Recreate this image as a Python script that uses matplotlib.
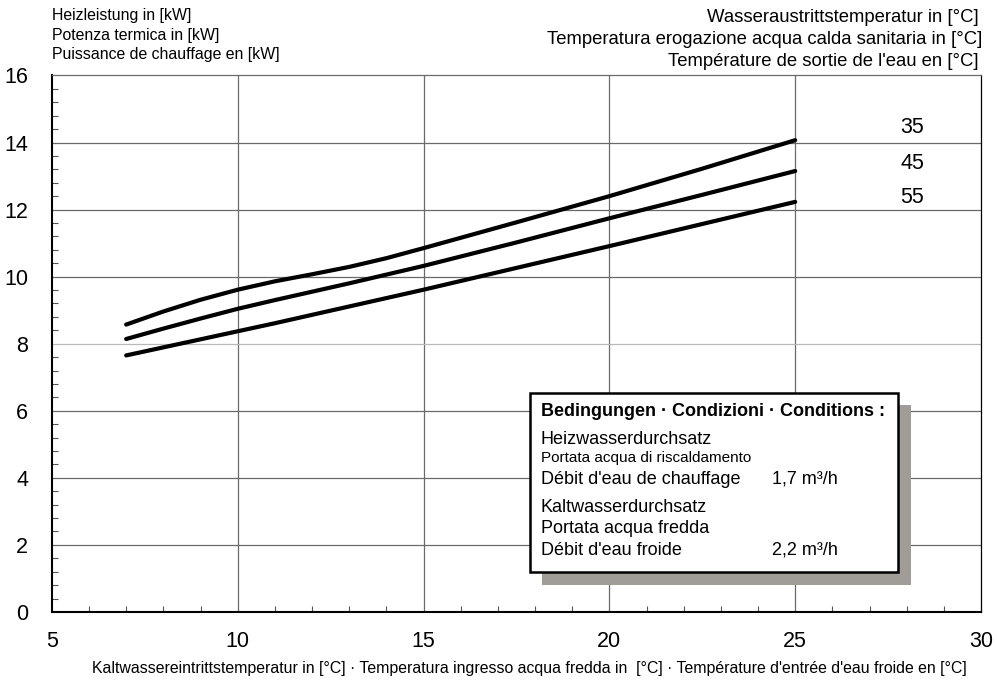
import numpy as np
import matplotlib
matplotlib.use("Agg")
import matplotlib.pyplot as plt
from matplotlib.patches import Rectangle
from matplotlib.ticker import MultipleLocator

plt.rcParams['font.family'] = ['Liberation Sans', 'DejaVu Sans']

# Kaltwassereintrittstemperatur [°C]
temp_in = [7, 8, 9, 10, 11, 12, 13, 14, 15, 17.5, 20, 22.5, 25]
# Heizleistung [kW] je Wasseraustrittstemperatur
leistung_35 = [8.57, 8.96, 9.31, 9.61, 9.86, 10.07, 10.29, 10.55, 10.85, 11.62, 12.40, 13.22, 14.07]
leistung_45 = [8.14, 8.45, 8.75, 9.04, 9.30, 9.55, 9.80, 10.06, 10.32, 11.02, 11.74, 12.44, 13.15]
leistung_55 = [7.65, 7.89, 8.13, 8.37, 8.61, 8.86, 9.11, 9.36, 9.61, 10.26, 10.91, 11.57, 12.23]
kurven_labels = ["35", "45", "55"]
label_y = [14.45, 13.38, 12.37]

x_ticks = [5, 10, 15, 20, 25, 30]
y_ticks = [0, 2, 4, 6, 8, 10, 12, 14, 16]

fig = plt.figure(figsize=(9.97, 6.86), dpi=100)
ax = fig.add_axes([0.052, 0.108, 0.932, 0.782])
ax.set_xlim(5, 30)
ax.set_ylim(0, 16)

# Gitter
for xv in x_ticks[1:-1]:
    ax.axvline(xv, color="#6a6a6a", lw=0.9, zorder=1)
for yv in y_ticks[1:-1]:
    c = "#b8b8b8" if yv == 8 else "#6a6a6a"
    ax.axhline(yv, color=c, lw=0.9, zorder=1)

for yk in [leistung_35, leistung_45, leistung_55]:
    ax.plot(temp_in, yk, color="black", lw=3.0, solid_capstyle="round",
            solid_joinstyle="round", zorder=3)

for lab, yl in zip(kurven_labels, label_y):
    ax.text(28.15, yl, lab, fontsize=15.5, ha="center", va="center")

ax.set_xticks(x_ticks)
ax.set_yticks(y_ticks)
ax.xaxis.set_minor_locator(MultipleLocator(1))
ax.yaxis.set_minor_locator(MultipleLocator(0.4))
ax.tick_params(which="major", direction="in", length=0, labelsize=15.5)
ax.tick_params(which="minor", direction="in", length=4, width=0.8, color="#555555")
ax.tick_params(axis="x", pad=14)
ax.tick_params(axis="y", pad=17)

ax.spines["left"].set_linewidth(1.5)
ax.spines["bottom"].set_linewidth(1.5)
ax.spines["top"].set_color("#6a6a6a")
ax.spines["top"].set_linewidth(0.9)
ax.spines["right"].set_linewidth(0.9)

# Achsentitel
fig.text(0.0522, 0.977, "Heizleistung in [kW]", fontsize=11.4, va="center")
fig.text(0.0522, 0.948, "Potenza termica in [kW]", fontsize=11.4, va="center")
fig.text(0.0522, 0.920, "Puissance de chauffage en [kW]", fontsize=11.4, va="center")

fig.text(0.982, 0.975, "Wasseraustrittstemperatur in [°C]", fontsize=13.3, ha="right", va="center")
fig.text(0.985, 0.943, "Temperatura erogazione acqua calda sanitaria in [°C]", fontsize=13.3, ha="right", va="center")
fig.text(0.982, 0.911, "Température de sortie de l'eau en [°C]", fontsize=13.3, ha="right", va="center")

fig.text(0.531, 0.026,
         "Kaltwassereintrittstemperatur in [°C] · Temperatura ingresso acqua fredda in  [°C] · Température d'entrée d'eau froide en [°C]",
         fontsize=11.4, ha="center", va="center")

# Bedingungen-Kasten mit Schatten
px2x = lambda p: (p - 52) / 929 * 25 + 5
px2y = lambda p: (613 - p) / 538 * 16
shadow = Rectangle((px2x(542), px2y(586)), px2x(911) - px2x(542), px2y(405) - px2y(586),
                   facecolor="#a09c98", edgecolor="none", zorder=4)
box = Rectangle((px2x(530), px2y(573)), px2x(898) - px2x(530), px2y(393) - px2y(573),
                facecolor="white", edgecolor="black", lw=1.8, zorder=5)
ax.add_patch(shadow)
ax.add_patch(box)

tx = px2x(541)
vx = px2x(772)
ax.text(tx, px2y(412), "Bedingungen · Condizioni · Conditions :", fontsize=13,
        fontweight="bold", va="center", zorder=6)
ax.text(tx, px2y(440), "Heizwasserdurchsatz", fontsize=13, va="center", zorder=6)
ax.text(tx, px2y(459), "Portata acqua di riscaldamento", fontsize=11, va="center", zorder=6)
ax.text(tx, px2y(480), "Débit d'eau de chauffage", fontsize=13, va="center", zorder=6)
ax.text(vx, px2y(480), "1,7 m³/h", fontsize=13, va="center", zorder=6)
ax.text(tx, px2y(508), "Kaltwasserdurchsatz", fontsize=13, va="center", zorder=6)
ax.text(tx, px2y(529), "Portata acqua fredda", fontsize=13, va="center", zorder=6)
ax.text(tx, px2y(551), "Débit d'eau froide", fontsize=13, va="center", zorder=6)
ax.text(vx, px2y(551), "2,2 m³/h", fontsize=13, va="center", zorder=6)

fig.savefig("out.png", dpi=100)
